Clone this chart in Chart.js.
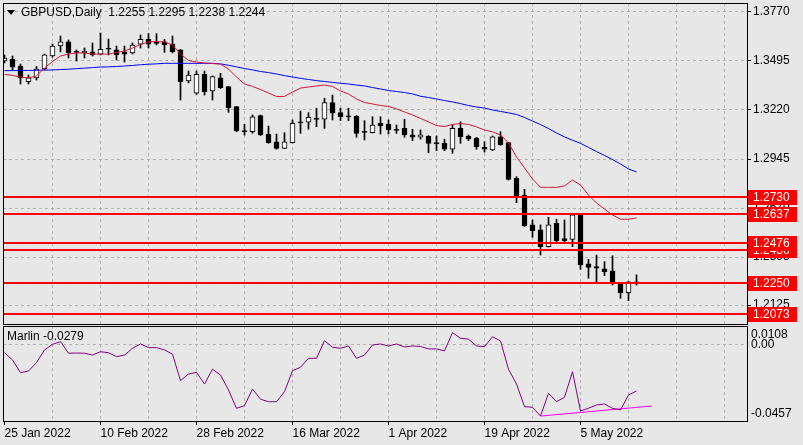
<!DOCTYPE html>
<html><head><meta charset="utf-8">
<script src="https://cdn.jsdelivr.net/npm/chart.js@4/dist/chart.umd.min.js"></script>
<style>
html,body{margin:0;padding:0;background:#e7e7e7;overflow:hidden}
#wrap{position:relative;width:803px;height:445px;background:#e7e7e7}
#c1{position:absolute;left:0;top:0}
#c2{position:absolute;left:0;top:325px}
</style></head>
<body><div id="wrap"><canvas id="c1" width="803" height="325"></canvas><canvas id="c2" width="803" height="120"></canvas></div>
<script>
const symbolTitle = 'GBPUSD,Daily';
const indicatorName = 'Marlin';
const dates = ['25 Jan 2022','26 Jan 2022','27 Jan 2022','28 Jan 2022','31 Jan 2022',
'1 Feb 2022','2 Feb 2022','3 Feb 2022','4 Feb 2022','7 Feb 2022','8 Feb 2022','9 Feb 2022','10 Feb 2022','11 Feb 2022','14 Feb 2022','15 Feb 2022','16 Feb 2022','17 Feb 2022','18 Feb 2022','21 Feb 2022','22 Feb 2022','23 Feb 2022','24 Feb 2022','25 Feb 2022','28 Feb 2022',
'1 Mar 2022','2 Mar 2022','3 Mar 2022','4 Mar 2022','7 Mar 2022','8 Mar 2022','9 Mar 2022','10 Mar 2022','11 Mar 2022','14 Mar 2022','15 Mar 2022','16 Mar 2022','17 Mar 2022','18 Mar 2022','21 Mar 2022','22 Mar 2022','23 Mar 2022','24 Mar 2022','25 Mar 2022','28 Mar 2022','29 Mar 2022','30 Mar 2022','31 Mar 2022',
'1 Apr 2022','4 Apr 2022','5 Apr 2022','6 Apr 2022','7 Apr 2022','8 Apr 2022','11 Apr 2022','12 Apr 2022','13 Apr 2022','14 Apr 2022','15 Apr 2022','18 Apr 2022','19 Apr 2022','20 Apr 2022','21 Apr 2022','22 Apr 2022','25 Apr 2022','26 Apr 2022','27 Apr 2022','28 Apr 2022','29 Apr 2022',
'2 May 2022','3 May 2022','4 May 2022','5 May 2022','6 May 2022','9 May 2022','10 May 2022','11 May 2022','12 May 2022','13 May 2022','16 May 2022'];

const openP = [1.3495,1.3506,1.3467,1.3379,1.3400,1.3450,1.3523,1.3579,1.3602,1.3546,
1.3540,1.3546,1.3534,1.3562,1.3557,1.3546,1.3540,1.3590,1.3616,1.3604,
1.3602,1.3590,1.3557,1.3383,1.3314,1.3420,1.3327,1.3401,1.3351,1.3239,
1.3102,1.3098,1.3188,1.3085,1.3042,1.3005,1.3037,1.3153,1.3151,1.3175,
1.3168,1.3261,1.3205,1.3184,1.3186,1.3097,1.3093,1.3145,1.3141,1.3108,
1.3117,1.3080,1.3067,1.3074,1.3037,1.3033,1.3000,1.3117,1.3074,1.3061,
1.3011,1.2996,1.3070,1.3037,1.2837,1.2743,1.2575,1.2547,1.2453,1.2584,
1.2498,1.2494,1.2631,1.2356,1.2341,1.2328,1.2317,1.2251,1.2195,1.2255];
const highP = [1.3529,1.3523,1.3478,1.3416,1.3464,1.3534,1.3590,1.3635,1.3613,1.3557,
1.3568,1.3596,1.3652,1.3618,1.3579,1.3579,1.3596,1.3641,1.3649,1.3649,
1.3616,1.3635,1.3560,1.3439,1.3439,1.3439,1.3411,1.3426,1.3352,1.3240,
1.3140,1.3192,1.3192,1.3130,1.3085,1.3093,1.3164,1.3214,1.3205,1.3230,
1.3286,1.3304,1.3230,1.3230,1.3188,1.3160,1.3182,1.3182,1.3164,1.3136,
1.3168,1.3112,1.3108,1.3076,1.3074,1.3056,1.3136,1.3154,1.3080,1.3067,
1.3042,1.3074,1.3098,1.3038,1.2846,1.2775,1.2603,1.2575,1.2618,1.2607,
1.2603,1.2636,1.2636,1.2382,1.2406,1.2369,1.2402,1.2252,1.2257,1.2295];
const lowP = [1.3484,1.3445,1.3366,1.3366,1.3388,1.3445,1.3517,1.3546,1.3512,1.3495,
1.3512,1.3523,1.3529,1.3529,1.3501,1.3489,1.3534,1.3568,1.3568,1.3585,
1.3543,1.3540,1.3276,1.3372,1.3308,1.3304,1.3276,1.3341,1.3207,1.3098,
1.3080,1.3089,1.3077,1.3033,1.3000,1.3004,1.3035,1.3089,1.3112,1.3126,
1.3117,1.3164,1.3160,1.3160,1.3067,1.3052,1.3091,1.3085,1.3085,1.3089,
1.3067,1.3048,1.3056,1.2980,1.2992,1.2992,1.2977,1.3033,1.3048,1.3000,
1.2984,1.2992,1.3022,1.2827,1.2700,1.2567,1.2506,1.2406,1.2451,1.2472,
1.2475,1.2453,1.2326,1.2276,1.2256,1.2290,1.2238,1.2163,1.2150,1.2238];
const closeP = [1.3512,1.3461,1.3400,1.3401,1.3450,1.3529,1.3579,1.3602,1.3540,1.3543,
1.3551,1.3529,1.3560,1.3561,1.3529,1.3534,1.3585,1.3616,1.3590,1.3593,
1.3585,1.3548,1.3379,1.3416,1.3420,1.3323,1.3407,1.3345,1.3233,1.3102,
1.3099,1.3182,1.3080,1.3037,1.3005,1.3042,1.3145,1.3147,1.3179,1.3167,
1.3261,1.3202,1.3182,1.3181,1.3089,1.3094,1.3136,1.3130,1.3108,1.3106,
1.3080,1.3067,1.3080,1.3033,1.3029,1.3000,1.3117,1.3070,1.3057,1.3014,
1.3000,1.3070,1.3024,1.2831,1.2737,1.2569,1.2543,1.2453,1.2575,1.2487,
1.2487,1.2631,1.2350,1.2337,1.2332,1.2313,1.2244,1.2195,1.2256,1.2244];

const maFast = [1.3420,1.3414,1.3405,1.3400,1.3411,1.3456,1.3492,1.3523,1.3534,1.3540,
1.3540,1.3534,1.3533,1.3534,1.3543,1.3551,1.3568,1.3588,1.3602,1.3604,
1.3602,1.3585,1.3534,1.3498,1.3489,1.3484,1.3481,1.3477,1.3450,1.3405,
1.3366,1.3352,1.3335,1.3315,1.3296,1.3296,1.3321,1.3343,1.3349,1.3355,
1.3360,1.3352,1.3327,1.3310,1.3282,1.3262,1.3254,1.3245,1.3240,1.3226,
1.3209,1.3192,1.3173,1.3153,1.3133,1.3127,1.3139,1.3144,1.3139,1.3125,
1.3108,1.3097,1.3080,1.3035,1.2956,1.2895,1.2833,1.2786,1.2786,1.2786,
1.2794,1.2827,1.2799,1.2743,1.2698,1.2664,1.2631,1.2607,1.2607,1.2614];
const maSlow = [1.3441,1.3441,1.3442,1.3442,1.3443,1.3444,1.3445,1.3447,1.3449,1.3452,
1.3455,1.3458,1.3461,1.3462,1.3464,1.3467,1.3470,1.3474,1.3477,1.3479,
1.3482,1.3482,1.3482,1.3482,1.3482,1.3482,1.3482,1.3479,1.3471,1.3462,
1.3453,1.3445,1.3436,1.3430,1.3422,1.3413,1.3405,1.3398,1.3391,1.3385,
1.3380,1.3375,1.3370,1.3366,1.3360,1.3355,1.3346,1.3338,1.3329,1.3324,
1.3318,1.3310,1.3297,1.3290,1.3282,1.3273,1.3265,1.3256,1.3245,1.3237,
1.3231,1.3220,1.3212,1.3204,1.3195,1.3178,1.3158,1.3138,1.3116,1.3091,
1.3069,1.3050,1.3033,1.3010,1.2987,1.2965,1.2942,1.2917,1.2889,1.2872];

const marlin = [-0.0047,-0.0091,-0.0168,-0.0158,-0.0107,-0.0030,0.0004,0.0020,-0.0050,-0.0049,
-0.0050,-0.0061,-0.0041,-0.0047,-0.0071,-0.0061,-0.0020,0.0006,-0.0016,-0.0016,
-0.0030,-0.0056,-0.0216,-0.0176,-0.0166,-0.0237,-0.0147,-0.0182,-0.0273,-0.0384,
-0.0368,-0.0267,-0.0329,-0.0344,-0.0344,-0.0283,-0.0156,-0.0135,-0.0081,-0.0081,
0.0026,-0.0014,-0.0020,-0.0006,-0.0081,-0.0061,0.0000,0.0006,-0.0006,0.0006,
-0.0012,-0.0006,-0.0009,-0.0024,-0.0024,-0.0036,0.0075,0.0041,0.0035,-0.0006,
-0.0010,0.0050,0.0024,-0.0147,-0.0237,-0.0374,-0.0378,-0.0431,-0.0293,-0.0344,
-0.0317,-0.0162,-0.0400,-0.0384,-0.0364,-0.0358,-0.0384,-0.0394,-0.0303,-0.0279];

const trendIdx = [67, 80.9];
const trendVal = [-0.0431, -0.0370];

const levels = [1.2073, 1.2250, 1.2436, 1.2476, 1.2637, 1.2730];
const priceTicks = [1.3770, 1.3495, 1.3220, 1.2945, 1.2670, 1.2395, 1.2125];
const marlinTicks = [0.0108, 0, -0.0457];
const marlinTickLabels = ['0.0108', '0.00', '-0.0457'];
const xGridIdx = [0,6,12,18,24,30,36,42,48,54,60,66,72,78,84,90];
const xLabelIdx = [0,12,24,36,48,60,72];

const FONT = '"Liberation Sans", Arial, sans-serif';
const GRID = '#b0b0b0';
const X_MIN = -0.1875, X_MAX = 92.8125;
const N = openP.length;
const last = N - 1;

const bodyColors = openP.map((o, i) => closeP[i] >= o ? '#ffffff' : '#000000');

function frame(chart){
  const {ctx, chartArea:a} = chart;
  ctx.save();
  ctx.strokeStyle = '#000'; ctx.lineWidth = 1;
  ctx.strokeRect(a.left + 0.5, a.top + 0.5, a.right - a.left, a.bottom - a.top);
  ctx.restore();
}

const mainPlugin = {
  id: 'mainPlugin',
  afterDraw(chart){
    const {ctx, chartArea:a} = chart;
    const ys = chart.scales.y;
    frame(chart);
    ctx.save();
    levels.forEach(v => {
      const y = Math.round(ys.getPixelForValue(v));
      ctx.strokeStyle = '#ff0000'; ctx.lineWidth = 2;
      ctx.beginPath(); ctx.moveTo(a.left + 1, y); ctx.lineTo(a.right, y); ctx.stroke();
    });
    ctx.font = '12px ' + FONT;
    ctx.textBaseline = 'middle'; ctx.textAlign = 'left';
    levels.forEach(v => {
      const y = Math.round(ys.getPixelForValue(v));
      ctx.fillStyle = '#ff0000';
      ctx.fillRect(a.right + 1, y - 7, 49, 15);
      ctx.fillStyle = '#ffffff';
      ctx.fillText(v.toFixed(4), a.right + 6, y + 1);
    });
    ctx.fillStyle = '#000';
    ctx.beginPath(); ctx.moveTo(7, 10); ctx.lineTo(15, 10); ctx.lineTo(11, 15); ctx.closePath(); ctx.fill();
    ctx.fillText(symbolTitle + '  ' + [openP[last], highP[last], lowP[last], closeP[last]].map(v => v.toFixed(4)).join(' '), 21, 13);
    ctx.restore();
  }
};

const lowerPlugin = {
  id: 'lowerPlugin',
  afterDraw(chart){
    const {ctx, chartArea:a} = chart;
    const ys = chart.scales.y;
    frame(chart);
    ctx.save();
    ctx.font = '12px ' + FONT;
    ctx.fillStyle = '#000';
    ctx.textBaseline = 'middle'; ctx.textAlign = 'left';
    marlinTicks.forEach((v, k) => {
      let y = ys.getPixelForValue(v);
      y = Math.min(Math.max(y, a.top + 9), a.bottom - 7);
      ctx.fillText(marlinTickLabels[k], a.right + 4, y);
    });
    ctx.fillText(indicatorName + ' ' + marlin[last].toFixed(4), 7, 12);
    ctx.restore();
  }
};

const xGridColor = c => (c.tick && c.tick.value === 0) ? 'rgba(0,0,0,0)' : GRID;

new Chart(document.getElementById('c1'), {
  type: 'line',
  data: { datasets: [
    { type:'line', data: maFast.map((v,i)=>({x:i,y:v})), borderColor:'#dc143c', borderWidth:1, pointRadius:0, tension:0, order:0 },
    { type:'line', data: maSlow.map((v,i)=>({x:i,y:v})), borderColor:'#0000ff', borderWidth:1, pointRadius:0, tension:0, order:0 },
    { type:'bar', data: openP.map((o,i)=>({x:i,y:[o,closeP[i]]})), backgroundColor: bodyColors, borderColor:'#000', borderWidth:1, borderSkipped:false, barThickness:5, minBarLength:1, grouped:false, order:1 },
    { type:'bar', data: lowP.map((l,i)=>({x:i,y:[l,highP[i]]})), backgroundColor:'#000', borderWidth:0, barThickness:1, grouped:false, order:2 }
  ]},
  options: {
    responsive:false, animation:false, devicePixelRatio:1,
    layout:{ padding:{left:3, top:3, right:0, bottom:1}, autoPadding:false },
    plugins:{ legend:{display:false}, tooltip:{enabled:false} },
    scales:{
      x:{ type:'linear', min:X_MIN, max:X_MAX, offset:false,
          afterBuildTicks: s => { s.ticks = xGridIdx.map(v => ({value:v})); },
          ticks:{display:false},
          grid:{ color:xGridColor, drawTicks:false, offset:false },
          border:{ display:false, dash:[3,3] },
          afterFit: s => { s.height = 0; s.paddingLeft = 0; s.paddingRight = 0; } },
      y:{ type:'linear', position:'right', min:1.2019, max:1.38205,
          afterBuildTicks: s => { s.ticks = priceTicks.map(v => ({value:v})); },
          ticks:{ font:{family:FONT, size:12}, color:'#000', padding:2, autoSkip:false, callback: v => Number(v).toFixed(4) },
          grid:{ color:GRID, tickColor:'#000', tickLength:4, tickBorderDash:[] },
          border:{ display:false, dash:[3,3] },
          afterFit: s => { s.width = 56; s.paddingTop = 0; s.paddingBottom = 0; } }
    }
  },
  plugins:[mainPlugin]
});

new Chart(document.getElementById('c2'), {
  type: 'line',
  data: { datasets: [
    { data: marlin.map((v,i)=>({x:i,y:v})), borderColor:'#800080', borderWidth:1, pointRadius:0, tension:0 },
    { data: trendIdx.map((x,k)=>({x:x,y:trendVal[k]})), borderColor:'#ff00ff', borderWidth:1, pointRadius:0, tension:0 }
  ]},
  options: {
    responsive:false, animation:false, devicePixelRatio:1,
    layout:{ padding:{left:3, top:1, right:0, bottom:0}, autoPadding:false },
    plugins:{ legend:{display:false}, tooltip:{enabled:false} },
    scales:{
      x:{ type:'linear', min:X_MIN, max:X_MAX, offset:false,
          afterBuildTicks: s => { s.ticks = xGridIdx.map(v => ({value:v})); },
          ticks:{ display:true, autoSkip:false, maxRotation:0, minRotation:0, align:'start', padding:1,
                  font:{family:FONT, size:12}, color:'#000',
                  callback: v => xLabelIdx.includes(v) ? dates[v] : '' },
          grid:{ color:xGridColor, drawTicks:true, tickLength:4, tickBorderDash:[],
                 tickColor: c => (c.tick && xLabelIdx.includes(c.tick.value)) ? '#000' : 'rgba(0,0,0,0)', offset:false },
          border:{ display:false, dash:[3,3] },
          afterFit: s => { s.height = 24; s.paddingLeft = 0; s.paddingRight = 0; } },
      y:{ type:'linear', position:'right', min:-0.0461, max:0.0115,
          afterBuildTicks: s => { s.ticks = [{value:0}]; },
          ticks:{ display:false },
          grid:{ color:GRID, drawTicks:false },
          border:{ display:false, dash:[3,3] },
          afterFit: s => { s.width = 56; s.paddingTop = 0; s.paddingBottom = 0; } }
    }
  },
  plugins:[lowerPlugin]
});
</script>
</body></html>
